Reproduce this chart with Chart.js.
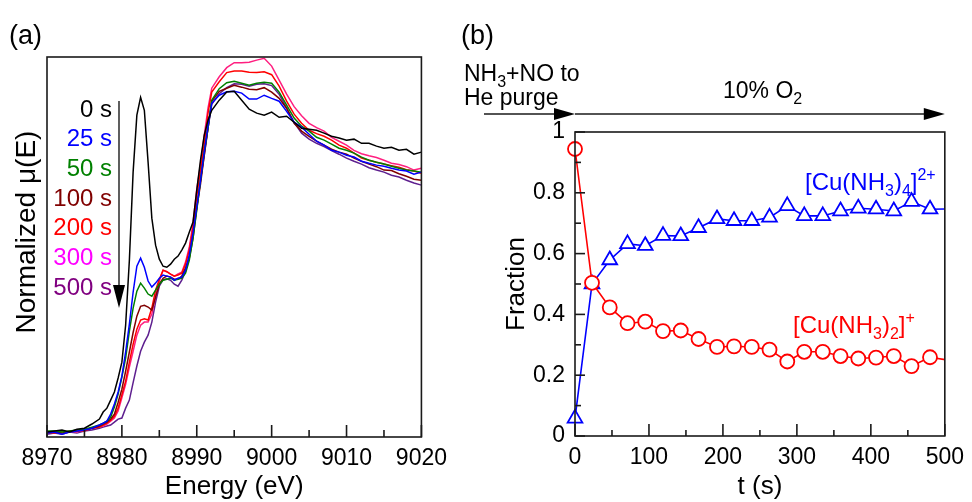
<!DOCTYPE html>
<html>
<head>
<meta charset="utf-8">
<script src="https://cdn.jsdelivr.net/npm/chart.js@4"></script>
<style>
  body { margin: 0; background: #fff; }
  #panelA { position: absolute; left: 0; top: 0; }
  #panelB { position: absolute; left: 455px; top: 0; }
</style>
</head>
<body>
<canvas id="panelA" width="455" height="502"></canvas>
<canvas id="panelB" width="517" height="502"></canvas>
<script>
// ---- Panel (a): espectros XANES normalizados ----
const energia = [
  8970, 8971, 8972, 8973, 8974, 8975, 8976,
  8977, 8977.5, 8978, 8978.5, 8979, 8979.5, 8980, 8980.5, 8981, 8981.5, 8982, 8982.5,
  8983, 8983.5, 8984, 8984.5, 8985, 8985.5, 8986, 8986.5, 8987, 8987.5, 8988, 8988.5,
  8989, 8989.5, 8990, 8990.5, 8991, 8991.5, 8992,
  8993, 8994, 8995, 8996, 8997, 8998, 8999, 9000, 9001, 9002, 9003, 9004, 9005, 9006,
  9007, 9008, 9009, 9010, 9011, 9012, 9013, 9014, 9015, 9016, 9017, 9018, 9019, 9020
];
const mu0s = [
  0.004, 0.008, 0.012, 0.004, 0.015, 0.019, 0.035,
  0.054, 0.081, 0.096, 0.127, 0.158, 0.212, 0.273, 0.415, 0.665, 1.004, 1.223, 1.292,
  1.242, 1.042, 0.827, 0.723, 0.669, 0.642, 0.638, 0.650, 0.669, 0.681, 0.704, 0.731,
  0.773, 0.812, 0.935, 1.050, 1.146, 1.204, 1.242,
  1.281, 1.312, 1.315, 1.281, 1.246, 1.231, 1.223, 1.235, 1.215, 1.219, 1.196, 1.173, 1.169, 1.165,
  1.154, 1.142, 1.135, 1.127, 1.131, 1.115, 1.115, 1.104, 1.096, 1.100, 1.088, 1.092, 1.073, 1.081
];
const mu25s = [
  0, 0.004, -0.004, 0.004, 0.008, 0.012, 0.019,
  0.031, 0.038, 0.046, 0.073, 0.112, 0.158, 0.219, 0.312, 0.419, 0.542, 0.642, 0.673,
  0.638, 0.585, 0.562, 0.577, 0.596, 0.608, 0.604, 0.600, 0.588, 0.596, 0.600, 0.627,
  0.685, 0.769, 0.869, 0.973, 1.081, 1.181, 1.269,
  1.300, 1.313, 1.315, 1.308, 1.285, 1.285, 1.300, 1.288, 1.277, 1.238, 1.196, 1.177, 1.150, 1.123,
  1.108, 1.088, 1.081, 1.069, 1.062, 1.046, 1.038, 1.031, 1.027, 1.019, 1.012, 1.008, 0.996, 1.004
];
const mu50s = [
  0.008, 0.008, 0.004, 0.008, 0.012, 0.015, 0.023,
  0.031, 0.038, 0.046, 0.062, 0.100, 0.150, 0.215, 0.288, 0.392, 0.481, 0.546, 0.577,
  0.558, 0.535, 0.527, 0.550, 0.573, 0.588, 0.592, 0.596, 0.588, 0.592, 0.596, 0.615,
  0.665, 0.750, 0.858, 0.973, 1.081, 1.173, 1.281,
  1.325, 1.348, 1.354, 1.346, 1.338, 1.346, 1.350, 1.346, 1.312, 1.262, 1.212, 1.181, 1.162, 1.138,
  1.127, 1.112, 1.096, 1.088, 1.077, 1.062, 1.050, 1.042, 1.035, 1.027, 1.019, 1.012, 1.008, 1.004
];
const mu100s = [
  0, 0.004, 0, 0.008, 0.008, 0.012, 0.019,
  0.027, 0.035, 0.042, 0.054, 0.073, 0.119, 0.169, 0.238, 0.312, 0.387, 0.450, 0.488,
  0.492, 0.485, 0.473, 0.523, 0.573, 0.596, 0.604, 0.600, 0.592, 0.592, 0.604, 0.635,
  0.673, 0.750, 0.865, 0.958, 1.069, 1.173, 1.277,
  1.315, 1.327, 1.338, 1.331, 1.323, 1.321, 1.329, 1.312, 1.288, 1.250, 1.192, 1.162, 1.142, 1.123,
  1.108, 1.092, 1.081, 1.073, 1.058, 1.046, 1.035, 1.025, 1.012, 1.010, 0.998, 0.988, 0.977, 0.973
];
const mu200s = [
  0.004, 0, 0.008, 0.004, 0.012, 0.008, 0.019,
  0.023, 0.031, 0.038, 0.050, 0.065, 0.096, 0.148, 0.200, 0.273, 0.342, 0.400, 0.435,
  0.440, 0.435, 0.481, 0.550, 0.592, 0.627, 0.621, 0.612, 0.604, 0.608, 0.615, 0.650,
  0.704, 0.792, 0.912, 1.012, 1.112, 1.231, 1.312,
  1.352, 1.387, 1.393, 1.393, 1.388, 1.387, 1.390, 1.379, 1.335, 1.277, 1.227, 1.192, 1.165, 1.152,
  1.142, 1.127, 1.108, 1.096, 1.077, 1.058, 1.050, 1.042, 1.035, 1.029, 1.023, 1.013, 1.008, 1.000
];
const mu300s = [
  0, 0.004, 0, 0.008, 0.004, 0.012, 0.019,
  0.023, 0.027, 0.035, 0.046, 0.058, 0.085, 0.136, 0.188, 0.254, 0.315, 0.377, 0.415,
  0.427, 0.427, 0.458, 0.528, 0.585, 0.627, 0.621, 0.612, 0.604, 0.612, 0.619, 0.658,
  0.715, 0.808, 0.938, 1.035, 1.146, 1.250, 1.327,
  1.371, 1.406, 1.425, 1.425, 1.427, 1.435, 1.442, 1.412, 1.358, 1.304, 1.256, 1.221, 1.192, 1.175,
  1.162, 1.138, 1.123, 1.108, 1.088, 1.075, 1.067, 1.060, 1.050, 1.038, 1.033, 1.025, 1.012, 1.019
];
const mu500s = [
  -0.004, 0, -0.004, 0.004, 0, 0.008, 0.012,
  0.019, 0.023, 0.027, 0.031, 0.042, 0.054, 0.058, 0.096, 0.127, 0.194, 0.258, 0.315,
  0.350, 0.377, 0.427, 0.504, 0.565, 0.590, 0.594, 0.588, 0.573, 0.565, 0.588, 0.623,
  0.677, 0.769, 0.869, 0.973, 1.069, 1.173, 1.265,
  1.306, 1.329, 1.344, 1.342, 1.335, 1.342, 1.344, 1.337, 1.304, 1.250, 1.196, 1.154, 1.131, 1.115,
  1.102, 1.087, 1.073, 1.058, 1.046, 1.035, 1.021, 1.012, 1.004, 0.992, 0.985, 0.973, 0.962, 0.954
];
const etiquetasTiempo = ['0 s', '25 s', '50 s', '100 s', '200 s', '300 s', '500 s'];
const ticksEnergia = [8970, 8980, 8990, 9000, 9010, 9020];

// ---- Panel (b): fracciones de especies de Cu ----
const tiempos = [0, 23, 47, 71, 95, 119, 143, 167, 192, 215, 239, 263, 287, 310, 335, 359, 383, 407, 431, 455, 480, 503];
const fraccionCuNH3_2 = [0.944, 0.504, 0.423, 0.371, 0.376, 0.345, 0.347, 0.319, 0.293, 0.295, 0.293,
  0.284, 0.245, 0.277, 0.277, 0.263, 0.255, 0.258, 0.263, 0.230, 0.259, 0.250];
const fraccionCuNH3_4 = [0.058, 0.500, 0.579, 0.632, 0.626, 0.659, 0.658, 0.685, 0.714, 0.708, 0.708,
  0.719, 0.757, 0.724, 0.724, 0.740, 0.749, 0.746, 0.740, 0.771, 0.746, 0.747];
const ticksTiempo = [0, 100, 200, 300, 400, 500];
const ticksFraccion = [0, 0.2, 0.4, 0.6, 0.8, 1];

const familia = "'Liberation Sans', Arial, Helvetica, sans-serif";
Chart.defaults.font.family = familia;
Chart.defaults.color = '#000';

const coloresCurva = ['#000000', '#0000ff', '#008000', '#800000', '#ff0000', '#ff1f80', '#5e1f8f'];
const coloresEtiqueta = ['#000000', '#0000ff', '#008000', '#800000', '#ff0000', '#ff00ff', '#800080'];

// Escribe texto con subindices / superindices, partes = [[texto, 'n'|'sub'|'sup'], ...]
function textoQuimico(ctx, partes, x, y, tam) {
    let cx = x;
    partes.forEach(([t, tipo]) => {
        const chico = tipo !== 'n';
        ctx.font = `${chico ? Math.round(tam * 0.68) : tam}px ${familia}`;
        const dy = tipo === 'sub' ? tam * 0.26 : (tipo === 'sup' ? -tam * 0.42 : 0);
        ctx.fillText(t, cx, y + dy);
        cx += ctx.measureText(t).width;
    });
}

function flecha(ctx, x1, y1, x2, y2, largo, ancho) {
    const ang = Math.atan2(y2 - y1, x2 - x1);
    ctx.beginPath();
    ctx.moveTo(x1, y1);
    ctx.lineTo(x2 - Math.cos(ang) * largo * 0.8, y2 - Math.sin(ang) * largo * 0.8);
    ctx.stroke();
    ctx.beginPath();
    ctx.moveTo(x2, y2);
    ctx.lineTo(x2 - Math.cos(ang) * largo - Math.sin(ang) * ancho, y2 - Math.sin(ang) * largo + Math.cos(ang) * ancho);
    ctx.lineTo(x2 - Math.cos(ang) * largo + Math.sin(ang) * ancho, y2 - Math.sin(ang) * largo - Math.cos(ang) * ancho);
    ctx.closePath();
    ctx.fill();
}

// Marco, marcas hacia dentro y textos del panel (a)
const decoracionA = {
    id: 'decoracionA',
    afterDraw(chart) {
        const { ctx, chartArea: a, scales: { x } } = chart;
        ctx.save();
        ctx.strokeStyle = '#1a1a1a';
        ctx.fillStyle = '#000';
        ctx.lineWidth = 1.6;
        ctx.strokeRect(a.left, a.top, a.right - a.left, a.bottom - a.top);
        for (let e = 8970; e <= 9020; e += 5) {
            const px = x.getPixelForValue(e);
            const largo = e % 10 === 0 ? 12 : 7;
            ctx.beginPath();
            ctx.moveTo(px, a.bottom);
            ctx.lineTo(px, a.bottom - largo);
            ctx.stroke();
        }
        // titulo del eje y (algo mas grande que los demas)
        ctx.save();
        ctx.translate(27, 232);
        ctx.rotate(-Math.PI / 2);
        ctx.font = `28px ${familia}`;
        ctx.textAlign = 'center';
        ctx.textBaseline = 'middle';
        ctx.fillText('Normalized μ(E)', 0, 0);
        ctx.restore();
        // leyenda de tiempos
        ctx.font = `24px ${familia}`;
        ctx.textAlign = 'right';
        ctx.textBaseline = 'middle';
        etiquetasTiempo.forEach((t, i) => {
            ctx.fillStyle = coloresEtiqueta[i];
            ctx.fillText(t, 112, 110 + i * 29.7);
        });
        ctx.fillStyle = '#000';
        ctx.lineWidth = 1.4;
        flecha(ctx, 119, 101, 119, 308, 23, 6);
        ctx.textAlign = 'left';
        ctx.font = `27px ${familia}`;
        ctx.fillText('(a)', 9, 37);
        ctx.restore();
    }
};

// Marco, marcas y anotaciones del panel (b)
const decoracionB = {
    id: 'decoracionB',
    afterDraw(chart) {
        const { ctx, chartArea: a, scales: { x, y } } = chart;
        ctx.save();
        ctx.strokeStyle = '#1a1a1a';
        ctx.fillStyle = '#000';
        ctx.lineWidth = 1.6;
        ctx.strokeRect(a.left, a.top, a.right - a.left, a.bottom - a.top);
        for (let t = 0; t <= 500; t += 50) {
            const px = x.getPixelForValue(t);
            const largo = t % 100 === 0 ? 12 : 6;
            ctx.beginPath();
            ctx.moveTo(px, a.bottom);
            ctx.lineTo(px, a.bottom - largo);
            ctx.stroke();
        }
        for (let i = 0; i <= 10; i++) {
            const py = y.getPixelForValue(i / 10);
            const largo = i % 2 === 0 ? 10 : 6;
            ctx.beginPath();
            ctx.moveTo(a.left, py);
            ctx.lineTo(a.left + largo, py);
            ctx.stroke();
        }
        // flecha superior de condiciones
        const yFlecha = a.top - 18;
        ctx.lineWidth = 1.4;
        flecha(ctx, a.left - 91, yFlecha, a.left, yFlecha, 21, 6);
        flecha(ctx, a.left, yFlecha, a.right, yFlecha, 21, 6);

        ctx.textAlign = 'left';
        ctx.textBaseline = 'alphabetic';
        ctx.fillStyle = '#000';
        textoQuimico(ctx, [['NH', 'n'], ['3', 'sub'], ['+NO to', 'n']], 9, 81, 23);
        textoQuimico(ctx, [['He purge', 'n']], 9, 105, 23);
        textoQuimico(ctx, [['10% O', 'n'], ['2', 'sub']], 268, 98, 23);

        ctx.fillStyle = '#0000ff';
        textoQuimico(ctx, [['[Cu(NH', 'n'], ['3', 'sub'], [')', 'n'], ['4', 'sub'], [']', 'n'], ['2+', 'sup']], 350, 190, 24);
        ctx.fillStyle = '#ff0000';
        textoQuimico(ctx, [['[Cu(NH', 'n'], ['3', 'sub'], [')', 'n'], ['2', 'sub'], [']', 'n'], ['+', 'sup']], 338, 333, 24);

        ctx.fillStyle = '#000';
        ctx.textBaseline = 'middle';
        ctx.font = `27px ${familia}`;
        ctx.fillText('(b)', 6, 37);
        ctx.restore();
    }
};

const seriesA = [mu0s, mu25s, mu50s, mu100s, mu200s, mu300s, mu500s];

new Chart(document.getElementById('panelA'), {
    type: 'line',
    data: {
        datasets: seriesA.map((serie, i) => ({
            label: etiquetasTiempo[i],
            data: energia.map((e, j) => ({ x: e, y: serie[j] })),
            borderColor: coloresCurva[i],
            borderWidth: 1.5,
            pointRadius: 0,
            tension: 0,
            fill: false
        }))
    },
    options: {
        responsive: false,
        animation: false,
        layout: { padding: { top: 57, right: 30, left: 0, bottom: 0 } },
        plugins: { legend: { display: false }, tooltip: { enabled: false } },
        scales: {
            x: {
                type: 'linear',
                min: 8970,
                max: 9020,
                afterBuildTicks: (escala) => { escala.ticks = ticksEnergia.map(v => ({ value: v })); },
                ticks: { font: { size: 23 }, padding: 8, maxRotation: 0, color: '#000', callback: (v) => String(v) },
                grid: { display: false, drawTicks: false },
                border: { display: false },
                title: { display: true, text: 'Energy (eV)', font: { size: 26 }, padding: 0, color: '#000' },
                afterFit: (escala) => { escala.height = 65; }
            },
            y: {
                min: -0.015,
                max: 1.447,
                ticks: { display: false },
                grid: { display: false, drawTicks: false },
                border: { display: false },
                title: { display: false },
                afterFit: (escala) => { escala.width = 47; }
            }
        }
    },
    plugins: [decoracionA]
});

new Chart(document.getElementById('panelB'), {
    type: 'line',
    data: {
        datasets: [
            {
                label: '[Cu(NH3)2]+',
                data: tiempos.map((t, j) => ({ x: t, y: fraccionCuNH3_2[j] })),
                borderColor: '#ff0000',
                backgroundColor: '#ffffff',
                borderWidth: 1.6,
                pointStyle: 'circle',
                pointRadius: (c) => (c.raw && c.raw.x > 500 ? 0 : 7),
                pointBorderWidth: 1.8,
                pointBackgroundColor: '#ffffff',
                clip: { left: 20, top: 20, right: 0, bottom: 20 }
            },
            {
                label: '[Cu(NH3)4]2+',
                data: tiempos.map((t, j) => ({ x: t, y: fraccionCuNH3_4[j] })),
                borderColor: '#0000ff',
                backgroundColor: '#ffffff',
                borderWidth: 1.6,
                pointStyle: 'triangle',
                pointRadius: (c) => (c.raw && c.raw.x > 500 ? 0 : 8.5),
                pointBorderWidth: 1.8,
                pointBackgroundColor: '#ffffff',
                clip: { left: 20, top: 20, right: 0, bottom: 20 }
            }
        ]
    },
    options: {
        responsive: false,
        animation: false,
        layout: { padding: { top: 132, right: 21, left: 0, bottom: 0 } },
        plugins: { legend: { display: false }, tooltip: { enabled: false } },
        scales: {
            x: {
                type: 'linear',
                min: 0,
                max: 500,
                afterBuildTicks: (escala) => { escala.ticks = ticksTiempo.map(v => ({ value: v })); },
                ticks: { font: { size: 23 }, padding: 8, maxRotation: 0, color: '#000', callback: (v) => String(v) },
                grid: { display: false, drawTicks: false },
                border: { display: false },
                title: { display: true, text: 't (s)', font: { size: 26 }, padding: 0, color: '#000' },
                afterFit: (escala) => { escala.height = 66; }
            },
            y: {
                min: 0,
                max: 1,
                afterBuildTicks: (escala) => { escala.ticks = ticksFraccion.map(v => ({ value: v })); },
                ticks: {
                    font: { size: 23 },
                    padding: 10,
                    color: '#000',
                    callback: (v) => (v === 0 || v === 1 ? String(v) : v.toFixed(1))
                },
                grid: { display: false, drawTicks: false },
                border: { display: false },
                title: { display: true, text: 'Fraction', font: { size: 26 }, padding: { top: 46, bottom: 0 }, color: '#000' },
                afterFit: (escala) => { escala.width = 120; }
            }
        }
    },
    plugins: [decoracionB]
});
</script>
</body>
</html>
